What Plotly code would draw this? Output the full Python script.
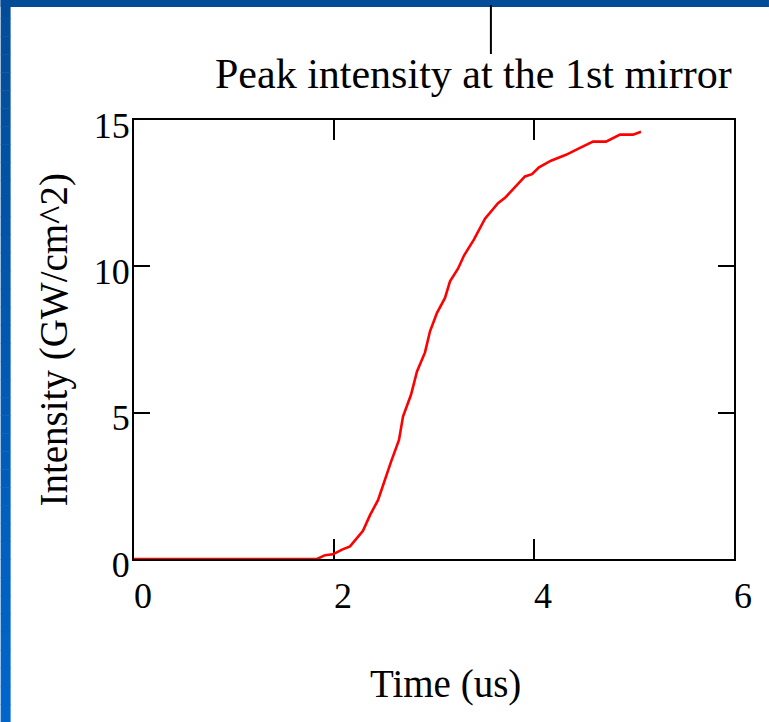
import plotly.graph_objects as go

# Data
time_us = [0, 1.83, 1.91, 1.99, 2.08, 2.16, 2.29, 2.36, 2.44, 2.50, 2.57, 2.65, 2.69,
           2.77, 2.83, 2.91, 2.96, 3.03, 3.11, 3.16, 3.24, 3.30, 3.40, 3.51, 3.64,
           3.71, 3.78, 3.85, 3.91, 3.98, 4.05, 4.17, 4.32, 4.45, 4.59, 4.72, 4.86,
           4.99, 5.07]
intensity = [0, 0, 0.13, 0.16, 0.32, 0.43, 0.96, 1.50, 2.01, 2.64, 3.32, 4.07, 4.87,
             5.61, 6.41, 7.06, 7.78, 8.41, 8.92, 9.49, 9.92, 10.37, 10.92, 11.63, 12.16,
             12.34, 12.60, 12.84, 13.07, 13.15, 13.38, 13.61, 13.81, 14.03, 14.26, 14.26, 14.50,
             14.50, 14.60]
x_ticks = [0, 2, 4, 6]
y_ticks = [0, 5, 10, 15]

title_text = "Peak intensity at the 1st mirror"
x_title = "Time (us)"
y_title = "Intensity (GW/cm^2)"

W, H = 769, 722
L, R, T, B = 133.5, 35, 120, 163
pw, ph = W - L - R, H - T - B

def px_x(px):
    return (px - L) / pw

def px_y(py):
    return (H - B - py) / ph

FONT = "Liberation Serif, Times New Roman, serif"

fig = go.Figure()
fig.add_trace(go.Scatter(x=time_us, y=intensity, mode="lines",
                         line=dict(color="#FF0000", width=2.6),
                         cliponaxis=False, showlegend=False, hoverinfo="skip"))

shapes = []
# blue slide border
shapes.append(dict(type="rect", xref="paper", yref="paper", layer="below",
                   x0=px_x(0), x1=px_x(W), y0=px_y(7), y1=px_y(0),
                   fillcolor="#034C98", line_width=0))
n = 40
top_c = (3, 76, 152)
bot_c = (0, 102, 204)
for i in range(n):
    y0p = H * i / n
    y1p = H * (i + 1) / n
    f = (i + 0.5) / n
    c = tuple(int(round(top_c[k] + (bot_c[k] - top_c[k]) * f)) for k in range(3))
    shapes.append(dict(type="rect", xref="paper", yref="paper", layer="below",
                       x0=px_x(0), x1=px_x(10), y0=px_y(y1p + 0.5), y1=px_y(y0p),
                       fillcolor="rgb(%d,%d,%d)" % c, line_width=0))
# vertical line at top (slide decoration)
shapes.append(dict(type="line", xref="paper", yref="paper",
                   x0=px_x(490.7), x1=px_x(490.7), y0=px_y(54), y1=px_y(5),
                   line=dict(color="black", width=2)))

axis_common = dict(showline=True, linecolor="black", linewidth=2, mirror="ticks",
                   ticks="inside", tickcolor="black", tickwidth=2,
                   showgrid=False, zeroline=False, layer="below traces",
                   tickfont=dict(family=FONT, size=36, color="black"))

fig.update_layout(
    width=W, height=H, autosize=False,
    margin=dict(l=L, r=R, t=T, b=B, pad=0),
    paper_bgcolor="white", plot_bgcolor="white",
    shapes=shapes,
    xaxis=dict(range=[0, 6], tickvals=x_ticks, ticklen=20,
               ticklabelshift=9, ticklabelstandoff=4, **axis_common),
    yaxis=dict(range=[0, 15], tickvals=y_ticks, ticklen=16,
               ticklabelshift=5, ticklabelstandoff=-5, **axis_common),
    annotations=[
        dict(text=title_text, xref="paper", yref="paper", x=px_x(734), y=px_y(74),
             xanchor="right", yanchor="middle", showarrow=False,
             font=dict(family=FONT, size=42, color="black")),
        dict(text=x_title, xref="paper", yref="paper", x=px_x(445), y=px_y(684),
             xanchor="center", yanchor="middle", showarrow=False,
             font=dict(family=FONT, size=39, color="black")),
        dict(text=y_title, xref="paper", yref="paper", x=px_x(53), y=px_y(340),
             xanchor="center", yanchor="middle", showarrow=False, textangle=-90,
             font=dict(family=FONT, size=39, color="black")),
    ],
)

fig.write_html("out.html")
